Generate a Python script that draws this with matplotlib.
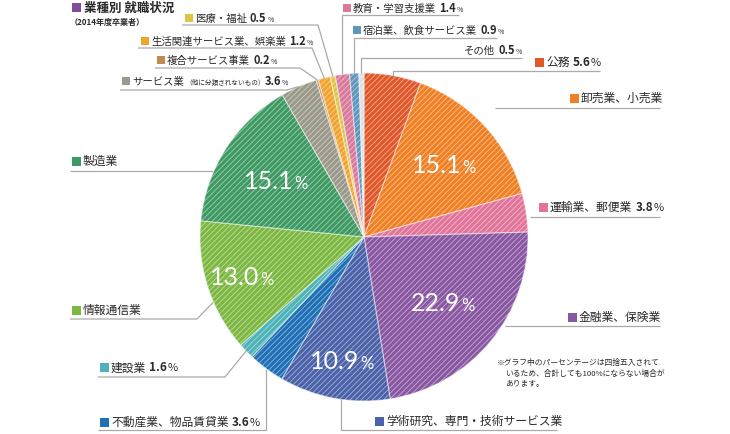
import matplotlib
matplotlib.use('Agg')
import matplotlib.pyplot as plt
from matplotlib.patches import Rectangle
import numpy as np

# ---------------- data ----------------
categories = ['公務', '卸売業、小売業', '運輸業、郵便業', '金融業、保険業',
              '学術研究、専門・技術サービス業', '不動産業、物品賃貸業', '建設業',
              '情報通信業', '製造業', 'サービス業', '複合サービス事業',
              '生活関連サービス業、娯楽業', '医療・福祉', '教育・学習支援業',
              '宿泊業、飲食サービス業', 'その他']
name_notes = {'サービス業': '（他に分類されないもの）'}
values = [5.6, 15.1, 3.8, 22.9, 10.9, 3.6, 1.6, 13.0, 15.1, 3.6, 0.2, 1.2, 0.5, 1.4, 0.9, 0.5]
colors = ['#E0582A', '#F08023', '#E2749A', '#8957A1', '#4B62AA', '#1E6FB5', '#4DB3B9',
          '#7DB843', '#3E9A62', '#9B9A8A', '#BF8A52', '#F2A22D', '#DDC543', '#D9799B',
          '#5E96BC', '#DCE0E4']
inner_label = [False, True, False, True, True, False, False, True, True,
               False, False, False, False, False, False, False]
title = '業種別 就職状況'
subtitle = '（2014年度卒業者）'
footnote = ['※グラフ中のパーセンテージは四捨五入されて',
            'いるため、合計しても100%にならない場合が',
            'あります。']

# ---------------- layout (pixels, y from top) ----------------
W, H = 730, 434
CX, CY, R = 364, 237, 164
# sq_x, center_y, kind, a, b, underline_y, frac, style
layout = {
    '公務': (535, 62, 'v', 600, None, 71, 0.5, 'major'),
    '卸売業、小売業': (570, 98, 'h', 495, 660, 108, 0.5, 'major'),
    '運輸業、郵便業': (539, 207, 'h', 530, 660, 217, 0.5, 'major'),
    '金融業、保険業': (568, 317, 'h', 505, 660, 326, 0.5, 'major'),
    '学術研究、専門・技術サービス業': (375, 421, 'v', 557, None, 430, 0.44, 'major'),
    '不動産業、物品賃貸業': (100, 422, 'v', 98, None, 430, 0.5, 'major'),
    '建設業': (100, 367, 'd', 98, 225, 377, 0.5, 'major'),
    '情報通信業': (72, 310, 'd', 70, 197, 319, 0.38, 'major'),
    '製造業': (72, 161, 'h', 70, 213, 171, 0.5, 'major'),
    'サービス業': (122, 81, 'd', 120, 287, 90, 0.5, 'small'),
    '複合サービス事業': (157, 60, 'd', 155, 300, 68, 0.5, 'small'),
    '生活関連サービス業、娯楽業': (141, 40.7, 'd', 138, 312, 48, 0.5, 'small'),
    '医療・福祉': (185, 17.7, 'd', 182, 318, 25, 0.5, 'small'),
    '教育・学習支援業': (343, 8.3, 'v', 459, None, 15, 0.5, 'small'),
    '宿泊業、飲食サービス業': (353, 30, 'v', 497, None, 38, 0.5, 'small'),
    'その他': (None, 50, 'v', 522, None, 58, 0.5, 'small'),
}
inner_r = {'卸売業、小売業': 0.66, '金融業、保険業': 0.62, '学術研究、専門・技術サービス業': 0.76,
           '情報通信業': 0.78, '製造業': 0.64}

JP = ['Noto Sans CJK JP', 'DejaVu Sans']
plt.rcParams['font.family'] = JP
plt.rcParams['hatch.linewidth'] = 0.6
TXT = '#2a2a2a'
LINE = '#AAAAAA'


def Y(y):
    return H - y


fig = plt.figure(figsize=(W / 100, H / 100), dpi=100)
ax = fig.add_axes([0, 0, 1, 1])
wedges, _ = ax.pie(values, colors=colors, startangle=90, counterclock=False,
                   center=(CX, Y(CY)), radius=R,
                   wedgeprops=dict(edgecolor=(1, 1, 1, 0.5), linewidth=0.8, hatch='//////'))
ax.set_xlim(0, W)
ax.set_ylim(0, H)
ax.set_aspect('equal')
ax.axis('off')
renderer = fig.canvas.get_renderer()


def run(x, cy, pieces, ha='left', color=TXT, family=None, z=3):
    """pieces: list of (text, size, weight, gap_before)"""
    fam = family if family else JP
    texts, widths = [], []
    maxsize = max(p[1] for p in pieces)
    base = Y(cy) - 0.36 * maxsize * 1.389
    for s, size, weight, gap in pieces:
        t = ax.text(0, base, s, fontsize=size, fontweight=weight, color=color,
                    va='baseline', ha='left', family=fam, zorder=z)
        texts.append(t)
        widths.append(t.get_window_extent(renderer).width)
    total = sum(widths) + sum(p[3] for p in pieces)
    if ha == 'right':
        cx = x - total
    elif ha == 'center':
        cx = x - total / 2
    else:
        cx = x
    for t, w, p in zip(texts, widths, pieces):
        cx += p[3]
        t.set_x(cx)
        cx += w
    return total


def square(x, cy, size, color):
    ax.add_patch(Rectangle((x, Y(cy) - size / 2), size, size, facecolor=color,
                           edgecolor='none'))


# title
square(72, 7, 9, '#7E4D9B')
run(84, 7, [(title, 9, 'bold', 0)])
run(70, 22, [(subtitle, 5.8, 'bold', 0)])

# outer labels + leader lines
for name, val, col, inner, w in zip(categories, values, colors, inner_label, wedges):
    sx, cy, kind, a, b, uy, frac, style = layout[name]
    ang = np.deg2rad(w.theta2 - frac * (w.theta2 - w.theta1))
    px, py = CX + R * np.cos(ang), Y(CY) + R * np.sin(ang)
    if kind == 'v':
        pts = [(px, py), (px, Y(uy)), (a, Y(uy))]
    elif kind == 'd':
        pts = [(a, Y(uy)), (b, Y(uy)), (px, py)]
    else:
        pts = [(a, Y(uy)), (b, Y(uy))]
    xs, ys = zip(*pts)
    ax.plot(xs, ys, color=LINE, lw=0.9, solid_capstyle='butt', zorder=1)

    if style == 'small':
        pieces = [(name, 7.5, 'normal', 0)]
        if name in name_notes:
            pieces.append((name_notes[name], 4.8, 'normal', 1))
            pieces += [(f'{val:.1f}', 8, 'bold', 0), ('%', 5, 'normal', 1)]
        else:
            pieces += [(f'{val:.1f}', 8, 'bold', 3), ('%', 5, 'normal', 1)]
        sq = 8
    else:
        pieces = [(name, 8.5, 'normal', 0)]
        if not inner:
            pieces += [(f'{val:.1f}', 8.5, 'bold', 3), ('%', 8, 'normal', 0.5)]
        sq = 9
    if sx is None:
        run(a, cy, pieces, ha='right')
    else:
        square(sx, cy, sq, col)
        run(sx + sq + 2, cy, pieces)

    if inner:
        mid = np.deg2rad((w.theta1 + w.theta2) / 2)
        rr = inner_r[name] * R
        lx, ly = CX + rr * np.cos(mid), Y(CY) + rr * np.sin(mid)
        run(lx, H - ly, [(f'{val:.1f}', 18, 'normal', 0), ('%', 12, 'normal', 1)],
            ha='center', color='white', family=['Lato', 'DejaVu Sans'], z=6)

# footnote
run(497, 362, [(footnote[0], 5.6, 'normal', 0)])
run(505, 373, [(footnote[1], 5.6, 'normal', 0)])
run(505, 383.5, [(footnote[2], 5.6, 'normal', 0)])

fig.savefig('out.png', dpi=100)
